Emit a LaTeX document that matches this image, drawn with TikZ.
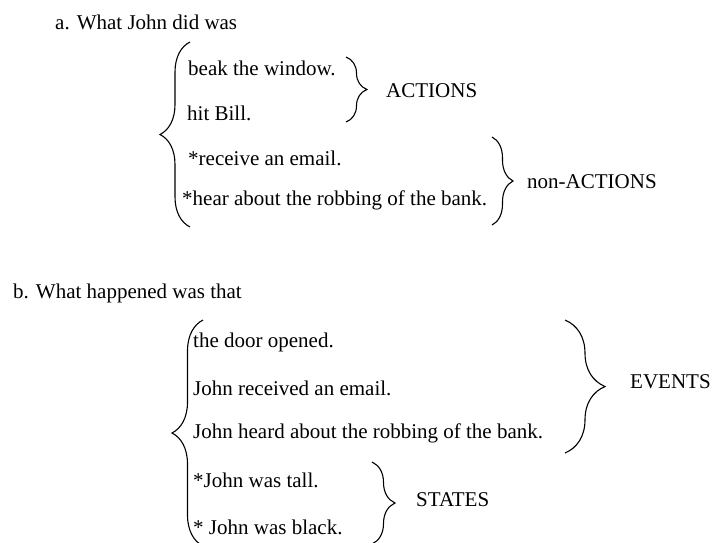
\documentclass[tikz,border=0pt]{standalone}
\usepackage{fontspec}
\setmainfont{Liberation Serif}
\usetikzlibrary{decorations.pathreplacing}

\tikzset{
  line/.style={anchor=west, inner sep=0pt},
  tag/.style={anchor=west, inner sep=0pt},
  brc/.style={decorate, decoration={brace, amplitude=#1}, line width=1.1pt}
}

\begin{document}
\begin{tikzpicture}[x=1pt, y=-1pt, font=\fontsize{21}{25}\selectfont]
        \useasboundingbox (0,0) rectangle (715,542);

        % a.
        \node (qa) [line] at (55,22) {a. What John did was};
        \node (a1) [line] at (188,68) {beak the window.};
        \node (a2) [line] at (187,113) {hit Bill.};
        \node (a3) [line] at (188,158) {*receive an email.};
        \node (a4) [line] at (182,200) {*hear about the robbing of the bank.};
        \node (act) [tag] at (386,91) {ACTIONS};
        \node (nact) [tag] at (527,182) {non-ACTIONS};

        \coordinate (atop) at (190,42);
        \coordinate (abot) at (190,227);
        \coordinate (ctop) at (346,57);
        \coordinate (cbot) at (346,122);
        \coordinate (ntop) at (492,137);
        \coordinate (nbot) at (492,225);

        \draw[brc=30] (abot) -- (atop);
        \draw[brc=21] (ctop) -- (cbot);
        \draw[brc=21] (ntop) -- (nbot);

        % b.
        \node (qb) [line] at (13,293) {b. What happened was that};
        \node (b1) [line] at (193,342) {the door opened.};
        \node (b2) [line] at (193,388) {John received an email.};
        \node (b3) [line] at (193,433) {John heard about the robbing of the bank.};
        \node (b4) [line] at (193,480) {*John was tall.};
        \node (b5) [line] at (193,527) {* John was black.};
        \node (ev) [tag] at (630,382) {EVENTS};
        \node (st) [tag] at (416,500) {STATES};

        \coordinate (btop) at (203,320);
        \coordinate (bbot) at (203,546);
        \coordinate (etop) at (565,320);
        \coordinate (ebot) at (565,453);
        \coordinate (stop) at (372,462);
        \coordinate (sbot) at (372,544);

        \draw[brc=31] (bbot) -- (btop);
        \draw[brc=40] (etop) -- (ebot);
        \draw[brc=23] (stop) -- (sbot);
    \end{tikzpicture}
\end{document}
